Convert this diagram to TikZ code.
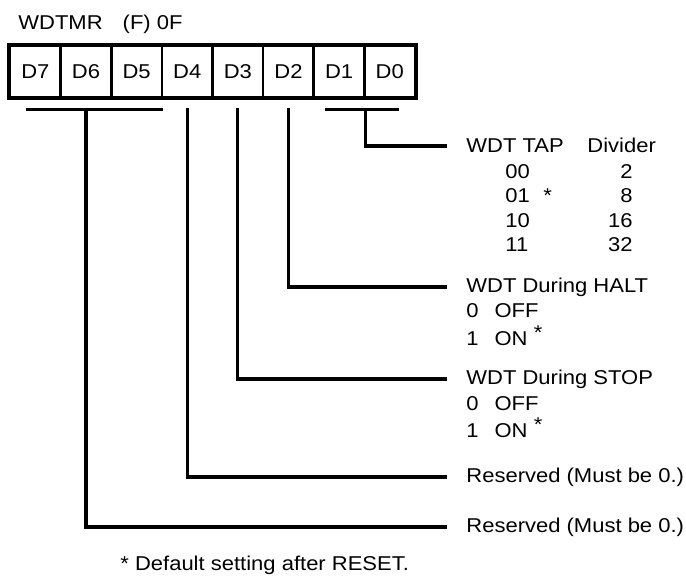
\documentclass[tikz,border=0pt]{standalone}
\usepackage{fontspec}
\setmainfont{Liberation Sans}[FakeStretch=1.1]
\begin{document}
\begin{tikzpicture}[x=0.5pt, y=-0.5pt, font=\fontsize{10}{12}\selectfont,
    bitcell/.style={rectangle, draw=black, line width=1.3pt, minimum width=25.3125pt, minimum height=25.5pt, inner sep=0pt},
    fieldtxt/.style={anchor=west, inner sep=0pt},
    numtxt/.style={anchor=east, inner sep=0pt},
    lead/.style={draw=black, line width=1.6pt}]

    \useasboundingbox (0,0) rectangle (686,578);

    % Register name and address
    \node[fieldtxt] (reg) at (18,24) {WDTMR\hspace{10pt}(F) 0F};

    % Bit cells D7 ... D0
    \foreach \b [count=\i from 0] in {7,...,0}
        \node[bitcell] (D\b) at ({10+50.625*(\i+0.5)},71.5) {D\b};
    \draw[line width=2pt] (D7.north west) rectangle (D0.south east);

    % Field descriptions
    \node[fieldtxt] (tap) at (466,146) {WDT TAP};
    \node[fieldtxt, anchor=base west] (divhead) at (tap.base -| 587,0) {Divider};
    \foreach \tapv/\divv [count=\r] in {00/2,01/8,10/16,11/32} {
        \node[fieldtxt] (tap\r) at (505,{147+24.5*\r}) {\tapv};
        \node[numtxt] (div\r) at (633,{147+24.5*\r}) {\divv};
    }
    \node[fieldtxt] (tapstar) at (543,196) {*};

    \node[fieldtxt] (halt) at (466,287) {WDT During HALT};
    \node[fieldtxt] (halt0) at (466,311) {0\hspace{8pt}OFF};
    \node[fieldtxt] (halt1) at (466,336) {1\hspace{8pt}ON~\raisebox{3pt}{*}};

    \node[fieldtxt] (stop) at (466,379) {WDT During STOP};
    \node[fieldtxt] (stop0) at (466,404) {0\hspace{8pt}OFF};
    \node[fieldtxt] (stop1) at (466,428) {1\hspace{8pt}ON~\raisebox{3pt}{*}};

    \node[fieldtxt] (resA) at (466,477) {Reserved (Must be 0.)};
    \node[fieldtxt] (resB) at (466,527) {Reserved (Must be 0.)};

    \node[fieldtxt] (note) at (120,565) {* Default setting after RESET.};

    % Line ends in front of the descriptions
    \coordinate (tapEnd) at ([xshift=-9.5pt]tap.west);
    \coordinate (haltEnd) at ([xshift=-9.5pt]halt.west);
    \coordinate (stopEnd) at ([xshift=-9.5pt]stop.west);
    \coordinate (resAEnd) at ([xshift=-9.5pt]resA.west);
    \coordinate (resBEnd) at ([xshift=-9.5pt]resB.west);

    % D1, D0 -> WDT TAP
    \draw[lead] ([shift={(6.5pt,-5.5pt)}]D1.south west) -- ([shift={(-8.5pt,-5.5pt)}]D0.south east);
    \draw[lead] ([yshift=-5.5pt]D1.south east) |- (tapEnd);

    % D2 -> HALT, D3 -> STOP, D4 -> reserved
    \draw[lead] ([yshift=-5pt]D2.south) |- (haltEnd);
    \draw[lead] ([yshift=-5pt]D3.south) |- (stopEnd);
    \draw[lead] ([yshift=-5pt]D4.south) |- (resAEnd);

    % D7 ... D5 -> reserved
    \draw[lead] ([shift={(8.5pt,-5.5pt)}]D7.south west) -- ([yshift=-5.5pt]D5.south east);
    \draw[lead] ([yshift=-5.5pt]D6.south) |- (resBEnd);

\end{tikzpicture}
\end{document}
